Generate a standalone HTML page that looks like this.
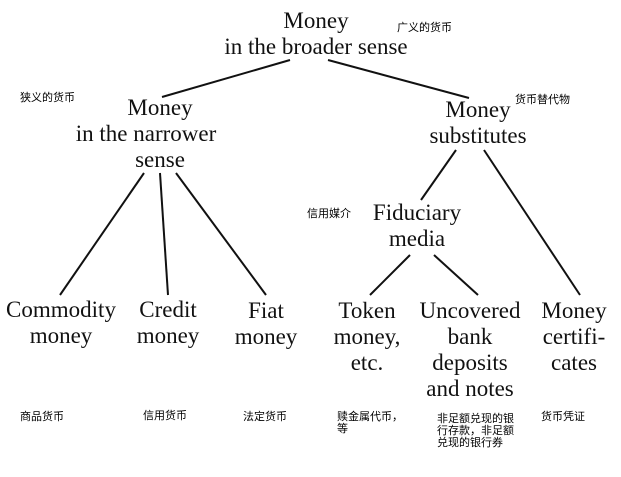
<!DOCTYPE html>
<html><head><meta charset="utf-8"><style>
html,body{margin:0;padding:0;background:#fff;}
svg{display:block;}
.s{font-family:"Liberation Serif",serif;font-size:23px;fill:#111;text-anchor:middle;}
.c{font-family:"Liberation Sans","Noto Sans CJK SC",sans-serif;font-size:11px;fill:#000;}
line{stroke:#111;stroke-width:2;}
</style></head><body>
<svg width="621" height="477" viewBox="0 0 621 477" xmlns="http://www.w3.org/2000/svg">
<rect width="621" height="477" fill="#fff"/>
<line x1="290" y1="60" x2="162" y2="97"/>
<line x1="328" y1="60" x2="469" y2="98"/>
<line x1="144" y1="173" x2="60" y2="295"/>
<line x1="160" y1="173" x2="168" y2="295"/>
<line x1="176" y1="173" x2="266" y2="295"/>
<line x1="456" y1="150" x2="421" y2="200"/>
<line x1="484" y1="150" x2="580" y2="295"/>
<line x1="410" y1="255" x2="370" y2="295"/>
<line x1="434" y1="255" x2="478" y2="295"/>

<text class="s" x="316" y="28">Money</text>
<text class="s" x="316" y="54">in the broader sense</text>
<text class="s" x="160" y="115">Money</text>
<text class="s" x="146" y="141">in the narrower</text>
<text class="s" x="160" y="167">sense</text>
<text class="s" x="478" y="117">Money</text>
<text class="s" x="478" y="143">substitutes</text>
<text class="s" x="417" y="220">Fiduciary</text>
<text class="s" x="417" y="246">media</text>
<text class="s" x="61" y="317">Commodity</text>
<text class="s" x="61" y="343">money</text>
<text class="s" x="168" y="317">Credit</text>
<text class="s" x="168" y="343">money</text>
<text class="s" x="266" y="318">Fiat</text>
<text class="s" x="266" y="344">money</text>
<text class="s" x="367" y="318">Token</text>
<text class="s" x="367" y="344">money,</text>
<text class="s" x="367" y="370">etc.</text>
<text class="s" x="470" y="318">Uncovered</text>
<text class="s" x="470" y="344">bank</text>
<text class="s" x="470" y="370">deposits</text>
<text class="s" x="470" y="396">and notes</text>
<text class="s" x="574" y="318">Money</text>
<text class="s" x="574" y="344">certifi-</text>
<text class="s" x="574" y="370">cates</text>

<text class="c" x="397" y="31">广义的货币</text>
<text class="c" x="20" y="101">狭义的货币</text>
<text class="c" x="515" y="103">货币替代物</text>
<text class="c" x="307" y="217">信用媒介</text>
<text class="c" x="20" y="420">商品货币</text>
<text class="c" x="143" y="419">信用货币</text>
<text class="c" x="243" y="420">法定货币</text>
<text class="c" x="337" y="420">赎金属代币，</text>
<text class="c" x="337" y="432">等</text>
<text class="c" x="437" y="422">非足额兑现的银</text>
<text class="c" x="437" y="434">行存款，非足额</text>
<text class="c" x="437" y="446">兑现的银行券</text>
<text class="c" x="541" y="420">货币凭证</text>
</svg>
</body></html>
